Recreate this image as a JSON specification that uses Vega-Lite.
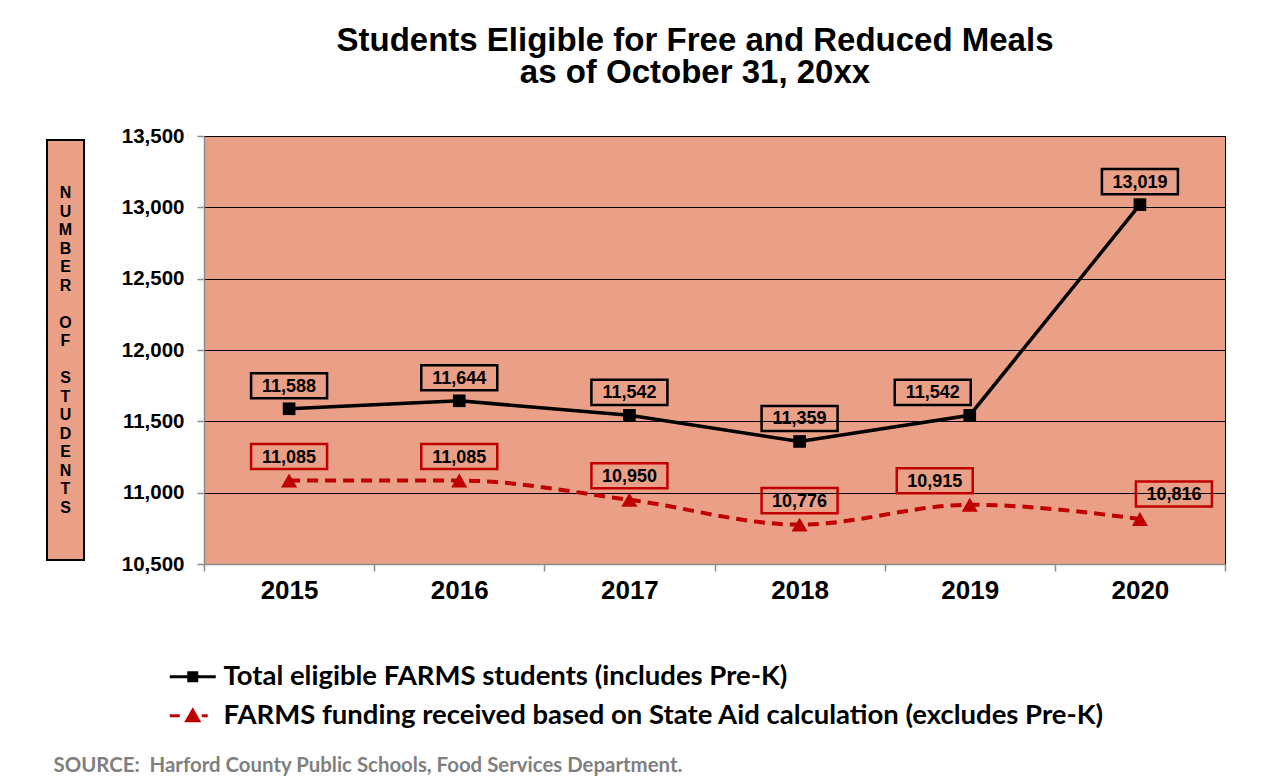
{
  "$schema": "https://vega.github.io/schema/vega-lite/v6.json",
  "autosize": {"type": "pad"},
  "padding": {"left": 46, "top": 24, "right": 40, "bottom": 4},
  "background": "white",
  "title": {
    "text": ["Students Eligible for Free and Reduced Meals", "as of October 31, 20xx"],
    "font": "Liberation Sans",
    "fontSize": 33,
    "fontWeight": "bold",
    "color": "black",
    "lineHeight": 32,
    "anchor": "start",
    "align": "center",
    "frame": "group",
    "dx": 648,
    "offset": 36
  },
  "datasets": {
    "farms": [
      {"year": "2015", "series": "Total eligible FARMS students (includes Pre-K)", "value": 11588},
      {"year": "2016", "series": "Total eligible FARMS students (includes Pre-K)", "value": 11644},
      {"year": "2017", "series": "Total eligible FARMS students (includes Pre-K)", "value": 11542},
      {"year": "2018", "series": "Total eligible FARMS students (includes Pre-K)", "value": 11359},
      {"year": "2019", "series": "Total eligible FARMS students (includes Pre-K)", "value": 11542},
      {"year": "2020", "series": "Total eligible FARMS students (includes Pre-K)", "value": 13019},
      {"year": "2015", "series": "FARMS funding received based on State Aid calculation (excludes Pre-K)", "value": 11085},
      {"year": "2016", "series": "FARMS funding received based on State Aid calculation (excludes Pre-K)", "value": 11085},
      {"year": "2017", "series": "FARMS funding received based on State Aid calculation (excludes Pre-K)", "value": 10950},
      {"year": "2018", "series": "FARMS funding received based on State Aid calculation (excludes Pre-K)", "value": 10776},
      {"year": "2019", "series": "FARMS funding received based on State Aid calculation (excludes Pre-K)", "value": 10915},
      {"year": "2020", "series": "FARMS funding received based on State Aid calculation (excludes Pre-K)", "value": 10816}
    ]
  },
  "spacing": 120,
  "bounds": "flush",
  "center": true,
  "hconcat": [
    {
      "width": 37,
      "height": 420,
      "view": {"fill": "#EA9F87", "stroke": "black", "strokeWidth": 2},
      "data": {"values": [{"label": "NUMBER OF STUDENTS"}]},
      "mark": {
        "type": "text",
        "text": ["N", "U", "M", "B", "E", "R", "\u200b", "O", "F", "\u200b", "S", "T", "U", "D", "E", "N", "T", "S"],
        "font": "Liberation Sans",
        "fontWeight": "bold",
        "fontSize": 16,
        "lineHeight": 18.5,
        "align": "center",
        "baseline": "middle",
        "dy": -157,
        "color": "black"
      }
    },
    {
      "width": 1021,
      "height": 428,
      "view": {"fill": "#EA9F87", "stroke": "black", "strokeWidth": 1},
      "data": {"name": "farms"},
      "encoding": {
        "x": {
          "field": "year",
          "type": "ordinal",
          "scale": {"type": "band", "paddingInner": 0, "paddingOuter": 0},
          "axis": {
            "tickBand": "extent",
            "grid": false,
            "labelAngle": 0,
            "domainColor": "#8c8c8c",
            "domainWidth": 1.5,
            "tickColor": "#8c8c8c",
            "tickWidth": 1.5,
            "tickSize": 7,
            "labelFont": "Liberation Sans",
            "labelFontSize": 26,
            "labelFontWeight": "bold",
            "labelColor": "black",
            "labelPadding": 6,
            "title": "SOURCE:\u00a0 Harford County Public Schools, Food Services Department.",
            "titleFont": "Lato",
            "titleFontSize": 20.4,
            "titleFontWeight": "bold",
            "titleColor": "#7f7f7f",
            "titleX": -151,
            "titleY": 207,
            "titleAlign": "left",
            "titleAnchor": "start",
            "titleBaseline": "alphabetic"
          }
        },
        "y": {
          "field": "value",
          "type": "quantitative",
          "scale": {"domain": [10500, 13500], "nice": false, "zero": false},
          "axis": {
            "values": [10500, 11000, 11500, 12000, 12500, 13000, 13500],
            "format": ",.0f",
            "grid": true,
            "gridColor": "black",
            "gridWidth": 1,
            "gridOpacity": 1,
            "domainColor": "#8c8c8c",
            "domainWidth": 1.5,
            "tickColor": "#8c8c8c",
            "tickWidth": 1.5,
            "tickSize": 7,
            "labelFont": "Liberation Sans",
            "labelFontSize": 20.5,
            "labelFontWeight": "bold",
            "labelColor": "black",
            "labelPadding": 13,
            "title": null
          }
        }
      },
      "layer": [
        {
          "transform": [{"filter": "false"}],
          "mark": {"type": "point", "filled": true, "opacity": 1},
          "encoding": {
            "shape": {
              "field": "series", "type": "nominal",
              "scale": {
                "domain": ["Total eligible FARMS students (includes Pre-K)", "FARMS funding received based on State Aid calculation (excludes Pre-K)"],
                "range": ["M-2.3,0H2.3M-0.4,-0.4H0.4V0.4H-0.4Z", "M-2.3,0H-1.3M0.9,0H1.5M-0.6,0.5L0,-0.55L0.6,0.5Z"]
              },
              "legend": {"orient": "none", "legendX": 132, "legendY": 527, "direction": "vertical", "title": null, "symbolSize": 400, "symbolStrokeWidth": 3, "symbolOpacity": 1, "labelFont": "Lato", "labelFontSize": 27.5, "labelFontWeight": "bold", "labelColor": "black", "labelLimit": 1200, "rowPadding": 10, "labelOffset": 17, "padding": 0}
            },
            "fill": {
              "field": "series", "type": "nominal",
              "scale": {
                "domain": ["Total eligible FARMS students (includes Pre-K)", "FARMS funding received based on State Aid calculation (excludes Pre-K)"],
                "range": ["black", "#C00000"]
              },
              "legend": {"orient": "none", "legendX": 132, "legendY": 527, "direction": "vertical", "title": null, "symbolSize": 400, "symbolStrokeWidth": 3, "symbolOpacity": 1, "labelFont": "Lato", "labelFontSize": 27.5, "labelFontWeight": "bold", "labelColor": "black", "labelLimit": 1200, "rowPadding": 10, "labelOffset": 17, "padding": 0}
            },
            "stroke": {
              "field": "series", "type": "nominal",
              "scale": {
                "domain": ["Total eligible FARMS students (includes Pre-K)", "FARMS funding received based on State Aid calculation (excludes Pre-K)"],
                "range": ["black", "#C00000"]
              },
              "legend": {"orient": "none", "legendX": 132, "legendY": 527, "direction": "vertical", "title": null, "symbolSize": 400, "symbolStrokeWidth": 3, "symbolOpacity": 1, "labelFont": "Lato", "labelFontSize": 27.5, "labelFontWeight": "bold", "labelColor": "black", "labelLimit": 1200, "rowPadding": 10, "labelOffset": 17, "padding": 0}
            }
          }
        },
        {
          "transform": [{"filter": "datum.series === 'FARMS funding received based on State Aid calculation (excludes Pre-K)'"}],
          "mark": {"type": "line", "color": "#C00000", "strokeWidth": 4, "strokeDash": [11, 7], "interpolate": "monotone"}
        },
        {
          "transform": [{"filter": "datum.series === 'Total eligible FARMS students (includes Pre-K)'"}],
          "mark": {"type": "line", "color": "black", "strokeWidth": 3.5}
        },
        {
          "transform": [{"filter": "datum.series === 'FARMS funding received based on State Aid calculation (excludes Pre-K)'"}],
          "mark": {"type": "point", "shape": "triangle-up", "filled": true, "color": "#C00000", "size": 260, "opacity": 1}
        },
        {
          "transform": [{"filter": "datum.series === 'Total eligible FARMS students (includes Pre-K)'"}],
          "mark": {"type": "point", "shape": "square", "filled": true, "color": "black", "size": 160, "opacity": 1}
        },
        {
          "transform": [{"filter": "datum.series === 'Total eligible FARMS students (includes Pre-K)' && datum.year !== '2019'"}],
          "layer": [
            {"mark": {"type": "point", "shape": "M-1,-0.33H1V0.33H-1Z", "size": 5776, "filled": false, "stroke": "black", "strokeWidth": 2.5, "opacity": 1, "yOffset": -23}},
            {"mark": {"type": "text", "font": "Liberation Sans", "fontSize": 18, "fontWeight": "bold", "color": "black", "baseline": "middle", "dy": -22}, "encoding": {"text": {"field": "value", "type": "quantitative", "format": ","}}}
          ]
        },
        {
          "transform": [{"filter": "datum.series === 'Total eligible FARMS students (includes Pre-K)' && datum.year === '2019'"}],
          "layer": [
            {"mark": {"type": "point", "shape": "M-1,-0.33H1V0.33H-1Z", "size": 5776, "filled": false, "stroke": "black", "strokeWidth": 2.5, "opacity": 1, "yOffset": -23, "xOffset": -37}},
            {"mark": {"type": "text", "font": "Liberation Sans", "fontSize": 18, "fontWeight": "bold", "color": "black", "baseline": "middle", "dy": -22, "dx": -37}, "encoding": {"text": {"field": "value", "type": "quantitative", "format": ","}}}
          ]
        },
        {
          "transform": [{"filter": "datum.series === 'FARMS funding received based on State Aid calculation (excludes Pre-K)' && datum.year !== '2019' && datum.year !== '2020'"}],
          "layer": [
            {"mark": {"type": "point", "shape": "M-1,-0.33H1V0.33H-1Z", "size": 5776, "filled": false, "stroke": "#C00000", "strokeWidth": 2.5, "opacity": 1, "yOffset": -24}},
            {"mark": {"type": "text", "font": "Liberation Sans", "fontSize": 18, "fontWeight": "bold", "color": "black", "baseline": "middle", "dy": -23}, "encoding": {"text": {"field": "value", "type": "quantitative", "format": ","}}}
          ]
        },
        {
          "transform": [{"filter": "datum.series === 'FARMS funding received based on State Aid calculation (excludes Pre-K)' && datum.year === '2019'"}],
          "layer": [
            {"mark": {"type": "point", "shape": "M-1,-0.33H1V0.33H-1Z", "size": 5776, "filled": false, "stroke": "#C00000", "strokeWidth": 2.5, "opacity": 1, "yOffset": -24, "xOffset": -35}},
            {"mark": {"type": "text", "font": "Liberation Sans", "fontSize": 18, "fontWeight": "bold", "color": "black", "baseline": "middle", "dy": -23, "dx": -35}, "encoding": {"text": {"field": "value", "type": "quantitative", "format": ","}}}
          ]
        },
        {
          "transform": [{"filter": "datum.series === 'FARMS funding received based on State Aid calculation (excludes Pre-K)' && datum.year === '2020'"}],
          "layer": [
            {"mark": {"type": "point", "shape": "M-1,-0.33H1V0.33H-1Z", "size": 5776, "filled": false, "stroke": "#C00000", "strokeWidth": 2.5, "opacity": 1, "yOffset": -25, "xOffset": 34}},
            {"mark": {"type": "text", "font": "Liberation Sans", "fontSize": 18, "fontWeight": "bold", "color": "black", "baseline": "middle", "dy": -24, "dx": 34}, "encoding": {"text": {"field": "value", "type": "quantitative", "format": ","}}}
          ]
        }
      ]
    }
  ],
  "config": {
    "font": "Liberation Sans"
  }
}
